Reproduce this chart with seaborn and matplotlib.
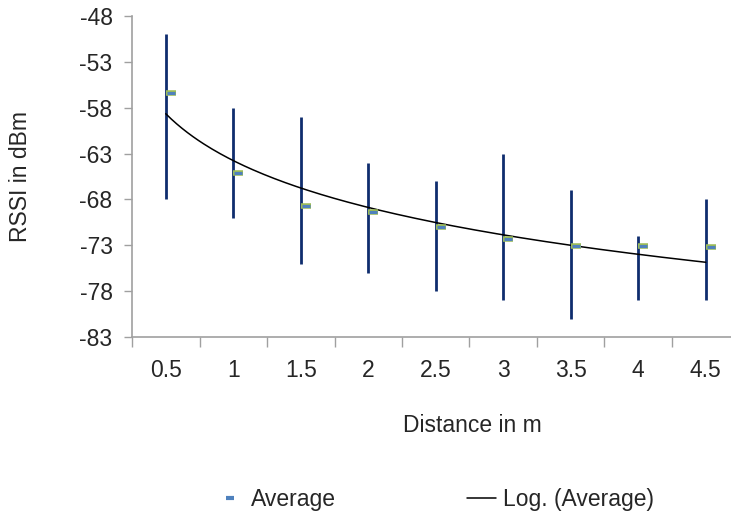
import seaborn as sns
import matplotlib.pyplot as plt
import matplotlib.transforms as mtransforms
from matplotlib.lines import Line2D
import numpy as np
import pandas as pd

# data
distance = ["0.5", "1", "1.5", "2", "2.5", "3", "3.5", "4", "4.5"]
rssi_max = [-50, -58, -59, -64, -66, -63, -67, -72, -68]
rssi_min = [-68, -70, -75, -76, -78, -79, -81, -79, -79]
rssi_avg = [-56.4, -65.1, -68.7, -69.4, -71.0, -72.3, -73.1, -73.05, -73.2]

df = pd.DataFrame({"distance": distance, "max": rssi_max,
                   "min": rssi_min, "avg": rssi_avg})
pos = np.arange(len(distance))

# log trendline (Excel style: fit against point index 1..n)
idx = pos + 1
a, b = np.polyfit(np.log(idx), df["avg"], 1)
xs = np.linspace(1, len(distance), 200)
trend = a * np.log(xs) + b

sns.set_style("white")
plt.rcParams['font.family'] = ['Liberation Sans', 'DejaVu Sans']
fs = 16.5

fig = plt.figure(figsize=(7.31, 5.15), dpi=100)
ax = fig.add_axes([0.1806, 0.3456, 0.8310, 0.6233])

# high-low lines
ax.vlines(pos, df["min"], df["max"], color="#0f2d6e", lw=2, zorder=2)

# log trendline
sns.lineplot(x=xs - 1, y=trend, color="black", lw=1.1, ax=ax, zorder=3)

# average markers, shifted a few pixels right like the original
shift = ax.transData + mtransforms.ScaledTranslation(5 / 100, 0, fig.dpi_scale_trans)
ax.plot(pos, df["avg"], ls="none", marker="_", ms=7.5, mew=4,
        color="#9bbb59", transform=shift, zorder=4)
ax.plot(pos, df["avg"], ls="none", marker="_", ms=6, mew=2.2,
        color="#4f81bd", transform=shift, zorder=5)

ax.set_xlim(-0.5, len(distance) - 0.5)
ax.set_ylim(-83, -48)
ax.set_yticks(np.arange(-83, -47, 5))
ax.set_yticklabels([str(v) for v in np.arange(-83, -47, 5)], fontsize=fs)

ax.set_xticks(pos)
ax.set_xticklabels(distance, fontsize=fs)
ax.set_xticks(np.arange(-0.5, len(distance), 1), minor=True)
ax.tick_params(axis="x", which="major", length=0, pad=16)
ax.tick_params(axis="x", which="minor", length=7, width=1, color="#a0a0a0",
               direction="out", bottom=True)
ax.tick_params(axis="y", length=6, width=1, color="#a0a0a0", direction="out",
               left=True, pad=8)

for side in ["top", "right"]:
    ax.spines[side].set_visible(False)
for side in ["left", "bottom"]:
    ax.spines[side].set_color("#a0a0a0")
    ax.spines[side].set_linewidth(1.2)

ax.set_xlabel("Distance in m", fontsize=fs)
ax.xaxis.set_label_coords(0.561, -0.24)
ax.set_ylabel("RSSI in dBm", fontsize=fs, labelpad=34)

# legend under the chart
h_avg = Line2D([], [], ls="none", marker="_", ms=6, mew=3, color="#4f81bd")
h_log = Line2D([], [], color="black", lw=1.1)
ax.legend([h_avg, h_log], ["Average", "Log. (Average)"], loc="center",
          bbox_to_anchor=(0.498, -0.505), ncol=2, frameon=False, fontsize=fs,
          columnspacing=5.68, handlelength=1.3, handletextpad=0.3)

fig.savefig("out.png", dpi=100)
